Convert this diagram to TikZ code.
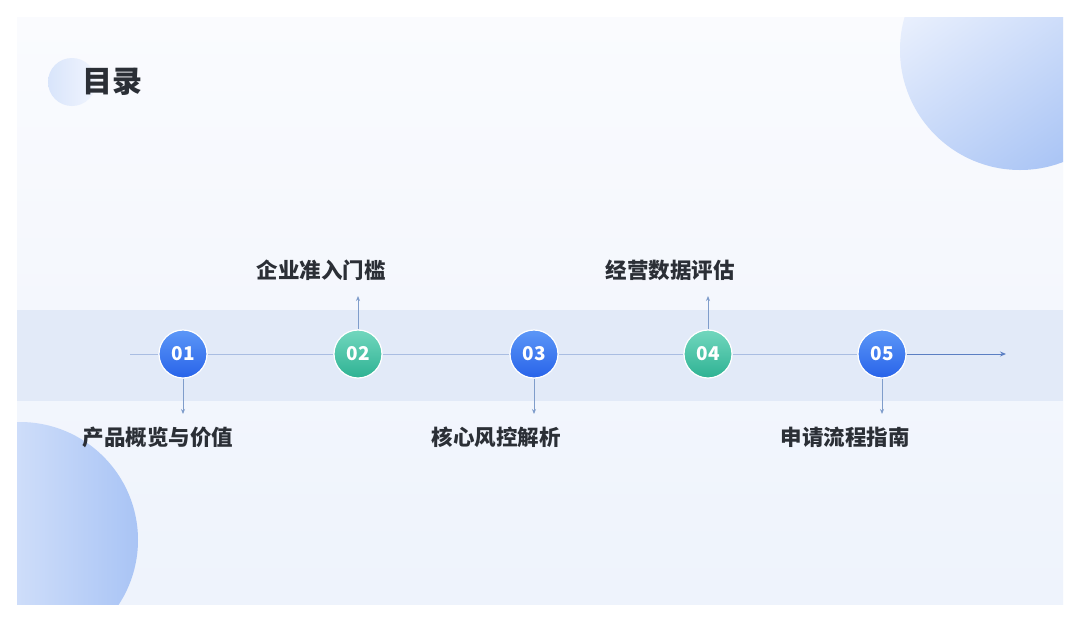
\documentclass[tikz,border=0pt]{standalone}
\usepackage{fontspec}
\setmainfont{Noto Sans CJK SC}
\usetikzlibrary{positioning,arrows.meta,calc}

\definecolor{pagetop}{HTML}{FAFBFE}
\definecolor{pagebot}{HTML}{EEF3FC}
\definecolor{bandblue}{HTML}{E2EAF8}
\definecolor{decolight}{HTML}{F1F5FE}
\definecolor{decodark}{HTML}{A9C4F5}
\definecolor{stepblueA}{HTML}{5C97F7}
\definecolor{stepblueB}{HTML}{2863E9}
\definecolor{steptealA}{HTML}{72D7BE}
\definecolor{steptealB}{HTML}{2EB293}
\definecolor{axisgray}{HTML}{A9BDE2}
\definecolor{axisdark}{HTML}{5B7FC3}
\definecolor{tickblue}{HTML}{7F9DCB}
\definecolor{labeltext}{HTML}{2B2F36}

\tikzset{
  stepdot/.style={circle, minimum size=48, inner sep=0, draw=white, line width=1.2,
    text=white, font=\fontsize{19}{19}\selectfont\bfseries},
  stepblue/.style={stepdot, top color=stepblueA, bottom color=stepblueB},
  stepteal/.style={stepdot, top color=steptealA, bottom color=steptealB},
  steplabel/.style={text=labeltext, font=\fontsize{21.5}{23}\selectfont\bfseries},
  axisline/.style={draw=axisgray, line width=1},
  tickarrow/.style={draw=tickblue, line width=1, -{Stealth[length=5,width=4]}}
}

\begin{document}
\begin{tikzpicture}[x=1pt,y=-1pt, every node/.style={align=center}]
  \useasboundingbox (0,0) rectangle (1080,622);
  \fill[white] (0,0) rectangle (1080,622);
  % slide background
  \shade[top color=pagetop, bottom color=pagebot] (17,17) rectangle (1063,604);
  \begin{scope}
    \clip (17,17) rectangle (1063,604);
    \shade[top color=decolight, bottom color=decodark, shading angle=35] (1020,50) circle (120);
    \shade[left color=decolight, right color=decodark] (20,540) circle (118);
  \end{scope}
  \fill[bandblue] (17,310) rectangle (1063,401);

  % title
  \shade[left color=decodark!45, right color=decolight] (72,82) circle (24);
  \node[text=labeltext, font=\fontsize{30}{32}\selectfont\bfseries, anchor=west] (title) at (79,82) {目录};

  % steps
  \coordinate (axisstart) at (130,354);
  \coordinate (axisend) at (1006,354);
  \node[stepblue] (c1) at (183,354) {01};
  \node[stepteal] (c2) at (358,354) {02};
  \node[stepblue] (c3) at (534,354) {03};
  \node[stepteal] (c4) at (708,354) {04};
  \node[stepblue] (c5) at (882,354) {05};
  \draw[axisline] (axisstart) -- (c1);
  \draw[axisline] (c1) -- (c2);
  \draw[axisline] (c2) -- (c3);
  \draw[axisline] (c3) -- (c4);
  \draw[axisline] (c4) -- (c5);
  \draw[draw=axisdark, line width=1, -{Stealth[length=6,width=5]}] (c5) -- (axisend);

  % labels
  \coordinate (a1) at (183,414);
  \coordinate (a2) at (358,296);
  \coordinate (a3) at (534,414);
  \coordinate (a4) at (708,296);
  \coordinate (a5) at (882,414);
  \draw[tickarrow] (c1.south) -- (a1);
  \draw[tickarrow] (c2.north) -- (a2);
  \draw[tickarrow] (c3.south) -- (a3);
  \draw[tickarrow] (c4.north) -- (a4);
  \draw[tickarrow] (c5.south) -- (a5);
  \node[steplabel] (t1) at (158,437) {产品概览与价值};
  \node[steplabel] (t2) at (321,270) {企业准入门槛};
  \node[steplabel] (t3) at (496,437) {核心风控解析};
  \node[steplabel] (t4) at (670,270) {经营数据评估};
  \node[steplabel] (t5) at (845,437) {申请流程指南};
\end{tikzpicture}
\end{document}
